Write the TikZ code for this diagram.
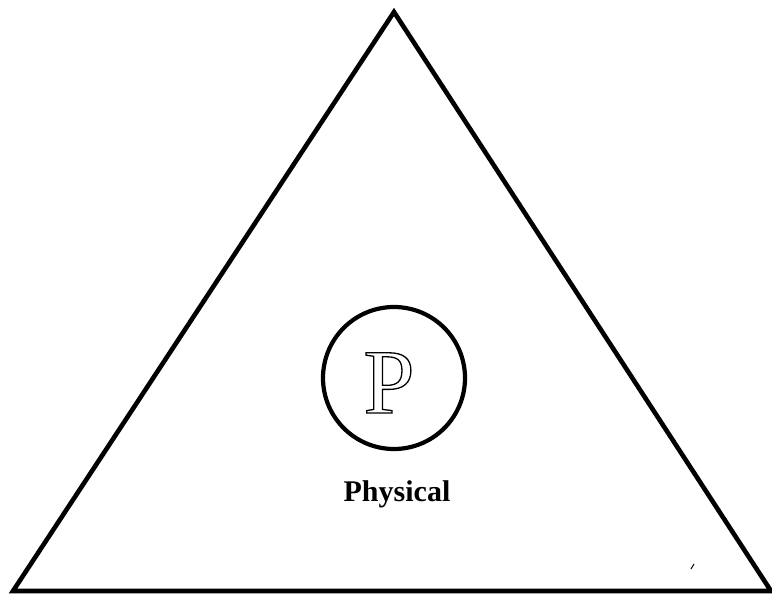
\documentclass[tikz,border=0pt]{standalone}
\usepackage{fontspec}
\setmainfont{Liberation Serif}
\newcommand{\outlinetext}[1]{\special{pdf:code q 1 Tr 1.3 w}#1\special{pdf:code Q}}
\tikzset{
  shapeline/.style={draw=black, line width=4.6pt, line join=miter},
  bigletter/.style={font=\fontsize{92}{92}\selectfont, inner sep=0pt, anchor=base},
  caption/.style={font=\fontsize{30}{30}\selectfont\bfseries, inner sep=0pt, anchor=base},
}
\begin{document}
\begin{tikzpicture}[x=1pt,y=-1pt]
\useasboundingbox (0,0) rectangle (772,595);
\coordinate (apex) at (394,12);
\coordinate (bl) at (13,591);
\coordinate (br) at (771,591);
\draw[shapeline] (apex) -- (br) -- (bl) -- cycle;
\node[shapeline, line width=4.2pt, circle, minimum size=142pt, inner sep=0pt] (ring) at (394,378) {};
\node[bigletter] (letter) at (389,413) {\outlinetext{P}};
\node[caption] (label) at (397,501) {Physical};
\coordinate (m1) at (691,569);
\coordinate (m2) at (694,564);
\draw[line width=1pt] (m1) -- (m2);
\end{tikzpicture}
\end{document}
